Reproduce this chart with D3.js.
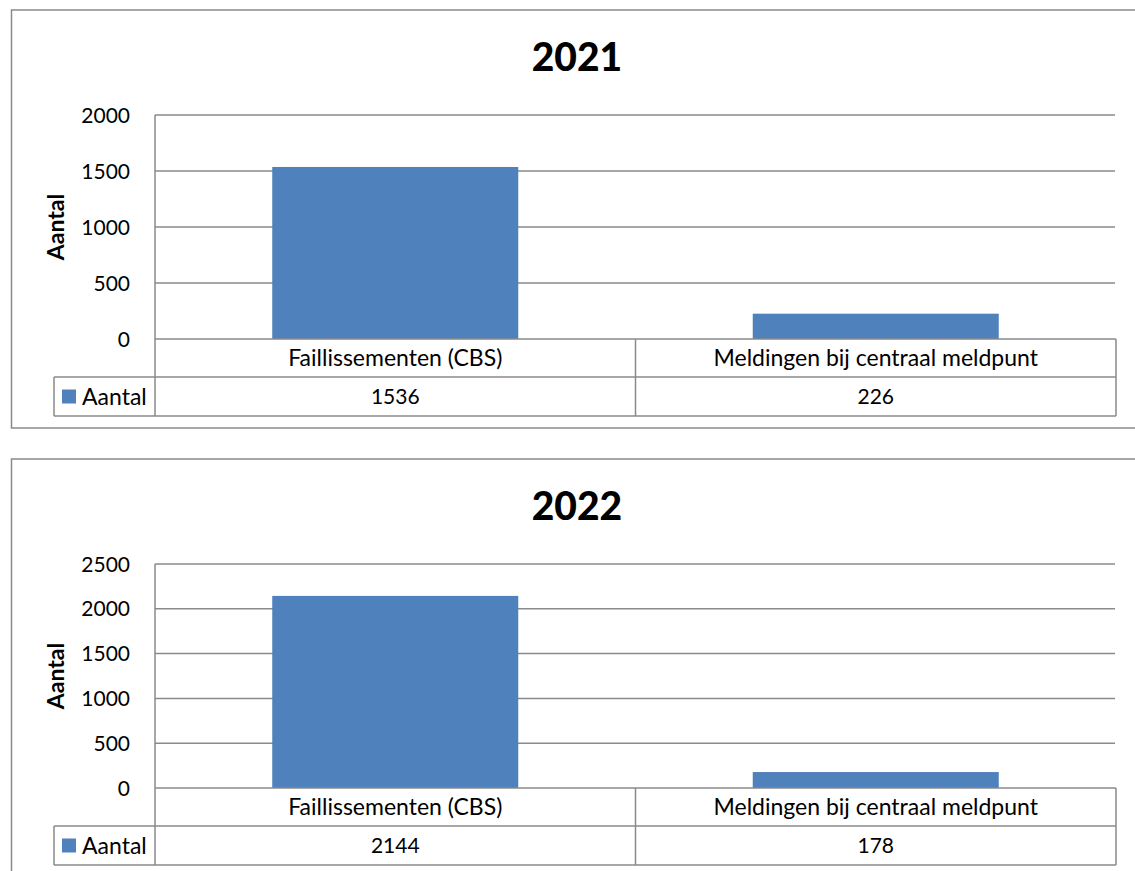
<!DOCTYPE html>
<html>
<head>
<meta charset="utf-8">
<script src="https://cdn.jsdelivr.net/npm/d3@7"></script>
<style>
  body { margin: 0; background: #fff; }
  svg { display: block; font-family: Lato, "Open Sans", sans-serif; }
</style>
</head>
<body>
<svg id="chart" width="1135" height="871"></svg>
<script>
const categories = ["Faillissementen (CBS)", "Meldingen bij centraal meldpunt"];
const seriesName = "Aantal";
const years = ["2021", "2022"];
const values2021 = [1536, 226];
const values2022 = [2144, 178];
const ticks2021 = [0, 500, 1000, 1500, 2000];
const ticks2022 = [0, 500, 1000, 1500, 2000, 2500];

const barColor = "#4f81bd",
      lineColor = "#8a8a8a";

const svg = d3.select("#chart");

// one panel = title, plot, data table underneath
function drawPanel(top, title, values, ticks) {
    const g = svg.append("g").attr("transform", `translate(0,${top})`);
    const left = 155, right = 1116;
    const plotTop = 105, plotBottom = 329;
    const row1 = 367, row2 = 406;

    // outer frame (runs off the right edge)
    g.append("path")
        .attr("d", `M1140,0 H11.5 V418 H1140`)
        .attr("fill", "none")
        .attr("stroke", lineColor)
        .attr("stroke-width", 1.5);

    g.append("text")
        .attr("x", 577).attr("y", 61)
        .attr("text-anchor", "middle")
        .attr("font-size", 39).attr("font-weight", 900)
        .text(title);

    const x = d3.scaleBand().domain(categories).range([left, right])
        .paddingInner(0.488).paddingOuter(0.244);
    const y = d3.scaleLinear().domain([0, d3.max(ticks)]).range([plotBottom, plotTop]);

    // gridlines
    g.append("g").selectAll("line").data(ticks.filter(t => t > 0)).join("line")
        .attr("x1", left).attr("x2", right - 1)
        .attr("y1", d => y(d)).attr("y2", d => y(d))
        .attr("stroke", lineColor).attr("stroke-width", 1.5);

    // tick labels
    g.append("g").selectAll("text").data(ticks).join("text")
        .attr("x", 130).attr("y", d => y(d))
        .attr("dy", "0.36em")
        .attr("text-anchor", "end")
        .attr("font-size", 21)
        .text(d => d);

    g.append("text")
        .attr("transform", `translate(64,${(plotTop + plotBottom) / 2}) rotate(-90)`)
        .attr("text-anchor", "middle")
        .attr("font-size", 23).attr("font-weight", "bold")
        .text(seriesName);

    // bars
    g.append("g").selectAll("rect").data(values).join("rect")
        .attr("x", (d, i) => x(categories[i]))
        .attr("y", d => y(d))
        .attr("width", x.bandwidth())
        .attr("height", d => y(0) - y(d))
        .attr("fill", barColor);

    // vertical axis line
    g.append("line")
        .attr("x1", left).attr("x2", left)
        .attr("y1", plotTop).attr("y2", row2)
        .attr("stroke", lineColor).attr("stroke-width", 1.5);

    // data table
    const dividers = [left, x(categories[1]) - x.step() * x.paddingInner() / 2, right];
    const tbl = g.append("g").attr("fill", "none").attr("stroke", lineColor).attr("stroke-width", 1.5);
    tbl.append("line").attr("x1", left).attr("x2", right).attr("y1", plotBottom).attr("y2", plotBottom);
    tbl.append("line").attr("x1", 54).attr("x2", right).attr("y1", row1).attr("y2", row1);
    tbl.append("line").attr("x1", 54).attr("x2", right).attr("y1", row2).attr("y2", row2);
    tbl.append("line").attr("x1", 54).attr("x2", 54).attr("y1", row1).attr("y2", row2);
    tbl.selectAll(".div").data(dividers.slice(1)).join("line")
        .attr("x1", d => d).attr("x2", d => d)
        .attr("y1", plotBottom).attr("y2", row2);

    g.append("g").selectAll("text").data(categories).join("text")
        .attr("x", d => x(d) + x.bandwidth() / 2)
        .attr("y", (plotBottom + row1) / 2)
        .attr("dy", "0.36em")
        .attr("text-anchor", "middle")
        .attr("font-size", 23)
        .text(d => d);

    g.append("g").selectAll("text").data(values).join("text")
        .attr("x", (d, i) => x(categories[i]) + x.bandwidth() / 2)
        .attr("y", (row1 + row2) / 2)
        .attr("dy", "0.36em")
        .attr("text-anchor", "middle")
        .attr("font-size", 21)
        .text(d => d);

    // legend key
    g.append("rect")
        .attr("x", 62).attr("y", (row1 + row2) / 2 - 7)
        .attr("width", 14).attr("height", 14)
        .attr("fill", barColor);
    g.append("text")
        .attr("x", 82).attr("y", (row1 + row2) / 2)
        .attr("dy", "0.36em")
        .attr("font-size", 23)
        .text(seriesName);
}

drawPanel(10, years[0], values2021, ticks2021);
drawPanel(459, years[1], values2022, ticks2022);
</script>
</body>
</html>
